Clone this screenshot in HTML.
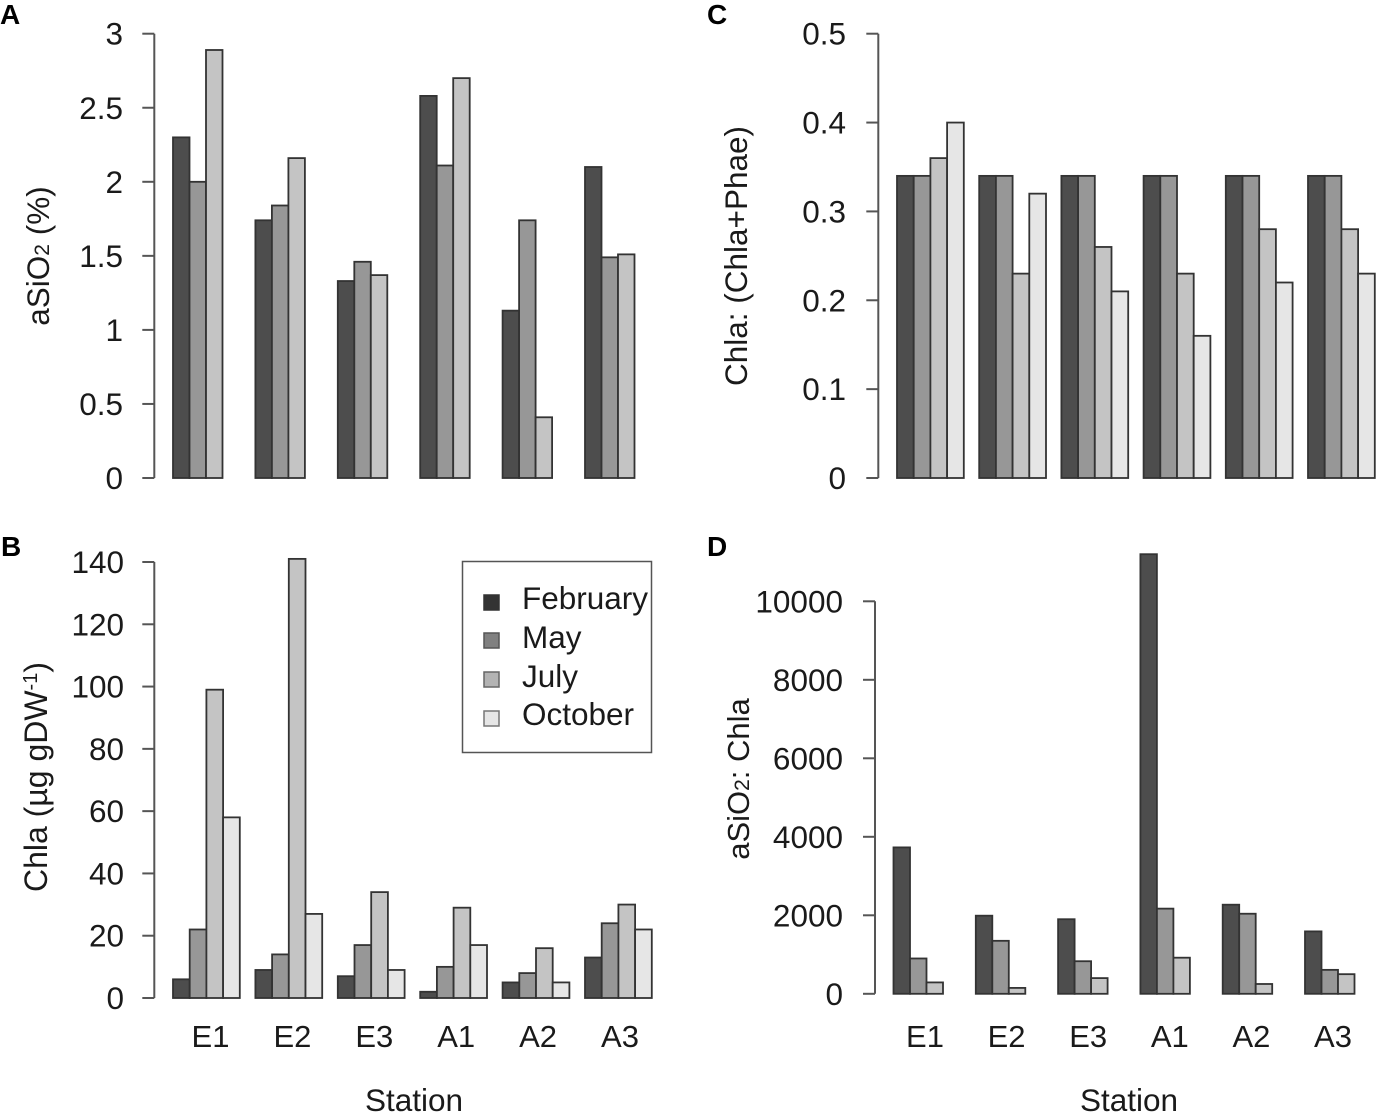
<!DOCTYPE html>
<html>
<head>
<meta charset="utf-8">
<title>Station charts</title>
<style>
html,body{margin:0;padding:0;background:#fff;}
svg{display:block;}
text{font-family:"Liberation Sans",sans-serif;fill:#1a1a1a;}
</style>
</head>
<body>
<svg id="fig" xmlns="http://www.w3.org/2000/svg" width="1378" height="1114" viewBox="0 0 1378 1114">
  <rect width="1378" height="1114" fill="#fff"/>
  <text x="0" y="24" font-size="28" font-weight="bold" style="fill:#000">A</text>
  <text x="1" y="556" font-size="28" font-weight="bold" style="fill:#000">B</text>
  <text x="707" y="24" font-size="28" font-weight="bold" style="fill:#000">C</text>
  <text x="707" y="556" font-size="28" font-weight="bold" style="fill:#000">D</text>

  <text transform="translate(49,256) rotate(-90)" text-anchor="middle" font-size="31.5">aSiO<tspan font-size="21">2</tspan> (%)</text>
  <text transform="translate(47,777) rotate(-90)" text-anchor="middle" font-size="32">Chla (µg gDW<tspan font-size="20" dy="-10">-1</tspan><tspan dy="10">)</tspan></text>
  <text transform="translate(747,256) rotate(-90)" text-anchor="middle" font-size="31.5">Chla: (Chla+Phae)</text>
  <text transform="translate(749,779) rotate(-90)" text-anchor="middle" font-size="31">aSiO<tspan font-size="21">2</tspan>: Chla</text>

  <text x="414" y="1111" text-anchor="middle" font-size="31.5">Station</text>
  <text x="1129" y="1111" text-anchor="middle" font-size="31.5">Station</text>

  <g>
    <rect x="462.5" y="561.5" width="189" height="191" fill="#fff" stroke="#555" stroke-width="1.5"/>
    <rect x="484" y="595" width="15" height="15" fill="#333" stroke="#333" stroke-width="1.5"/>
    <text x="522" y="609" font-size="31.5">February</text>
    <rect x="484" y="633" width="15" height="15" fill="#808080" stroke="#555" stroke-width="1.5"/>
    <text x="522" y="648" font-size="31.5">May</text>
    <rect x="484" y="672" width="15" height="15" fill="#b3b3b3" stroke="#666" stroke-width="1.5"/>
    <text x="522" y="687" font-size="31.5">July</text>
    <rect x="484" y="711" width="15" height="15" fill="#e6e6e6" stroke="#777" stroke-width="1.5"/>
    <text x="522" y="725" font-size="31.5">October</text>
  </g>
</svg>
<script>
// Shared categories and series
const stations = ["E1", "E2", "E3", "A1", "A2", "A3"];
const seriesNames = ["February", "May", "July", "October"];

// Panel A: aSiO2 (%)
const aFebruary = [2.3, 1.74, 1.33, 2.58, 1.13, 2.1];
const aMay = [2.0, 1.84, 1.46, 2.11, 1.74, 1.49];
const aJuly = [2.89, 2.16, 1.37, 2.7, 0.41, 1.51];
const aTicks = [0, 0.5, 1, 1.5, 2, 2.5, 3];

// Panel B: Chla
const bFebruary = [6, 9, 7, 2, 5, 13];
const bMay = [22, 14, 17, 10, 8, 24];
const bJuly = [99, 141, 34, 29, 16, 30];
const bOctober = [58, 27, 9, 17, 5, 22];
const bTicks = [0, 20, 40, 60, 80, 100, 120, 140];

// Panel C: Chla:(Chla+Phae)
const cFebruary = [0.34, 0.34, 0.34, 0.34, 0.34, 0.34];
const cMay = [0.34, 0.34, 0.34, 0.34, 0.34, 0.34];
const cJuly = [0.36, 0.23, 0.26, 0.23, 0.28, 0.28];
const cOctober = [0.40, 0.32, 0.21, 0.16, 0.22, 0.23];
const cTicks = [0, 0.1, 0.2, 0.3, 0.4, 0.5];

// Panel D: aSiO2:Chla
const dFebruary = [3730, 1990, 1900, 11200, 2270, 1590];
const dMay = [900, 1350, 830, 2170, 2040, 610];
const dJuly = [290, 150, 400, 920, 250, 500];
const dTicks = [0, 2000, 4000, 6000, 8000, 10000];

const NS = "http://www.w3.org/2000/svg";
const fig = document.getElementById("fig");
const fills = ["#4d4d4d", "#979797", "#c4c4c4", "#e6e6e6"];

function node(parent, tag, attrs) {
  const el = document.createElementNS(NS, tag);
  for (const k in attrs) el.setAttribute(k, attrs[k]);
  parent.appendChild(el);
  return el;
}

function drawPanel(p) {
  const g = node(fig, "g", {});
  
  
  const top = p.yTick;
  const maxTick = p.ticks[p.ticks.length - 1];
  const yScale = v => p.y0 - (v / maxTick) * (p.y0 - top);
  const groupX = i => p.barStart + i * p.pitch;
  const barX = (i, s) => groupX(i) + s * p.barW;

  // axis
  const axis = node(g, "line", {x1: p.axisX, x2: p.axisX, y1: yScale(0), y2: yScale(maxTick), stroke: "#555", "stroke-width": 2});
  
  
  p.ticks.forEach(t => {
    const y = yScale(t);
    const tick = node(g, "line", {x1: p.axisX - 12, x2: p.axisX, y1: y, y2: y, stroke: "#555", "stroke-width": 2});
    
    
    const label = node(g, "text", {x: p.labelRight, y: y + 11, "text-anchor": "end", "font-size": 31.5});
    
    
    label.textContent = String(t);
  });

  // bars
  p.series.forEach((values, s) => {
    values.forEach((v, i) => {
      const y = yScale(v);
      const bar = node(g, "rect", {x: barX(i, s), y: y, width: p.barW, height: yScale(0) - y, fill: fills[s], stroke: "#333", "stroke-width": 1.8});
      
      
    });
  });

  // station labels
  if (p.stationLabelX) {
    stations.forEach((st, i) => {
      const t = node(g, "text", {x: p.stationLabelX + i * p.stationPitch, y: 1047, "text-anchor": "middle", "font-size": 31});
      
      
      t.textContent = st;
    });
  }
}

drawPanel({id: "a", series: [aFebruary, aMay, aJuly], ticks: aTicks, y0: 478, yTick: 33.7, axisX: 154.3, labelRight: 123, barStart: 173, pitch: 82.4, barW: 16.5});
drawPanel({id: "b", series: [bFebruary, bMay, bJuly, bOctober], ticks: bTicks, y0: 998, yTick: 562, axisX: 154.3, labelRight: 124, barStart: 173, pitch: 82.4, barW: 16.7, stationLabelX: 210.5, stationPitch: 81.9});
drawPanel({id: "c", series: [cFebruary, cMay, cJuly, cOctober], ticks: cTicks, y0: 478, yTick: 33.7, axisX: 878.3, labelRight: 846, barStart: 897, pitch: 82.2, barW: 16.7});
drawPanel({id: "d", series: [dFebruary, dMay, dJuly], ticks: dTicks, y0: 993.8, yTick: 601.3, axisX: 875, labelRight: 843, barStart: 893.5, pitch: 82.3, barW: 16.5, stationLabelX: 925, stationPitch: 81.6});
</script>
</body>
</html>
